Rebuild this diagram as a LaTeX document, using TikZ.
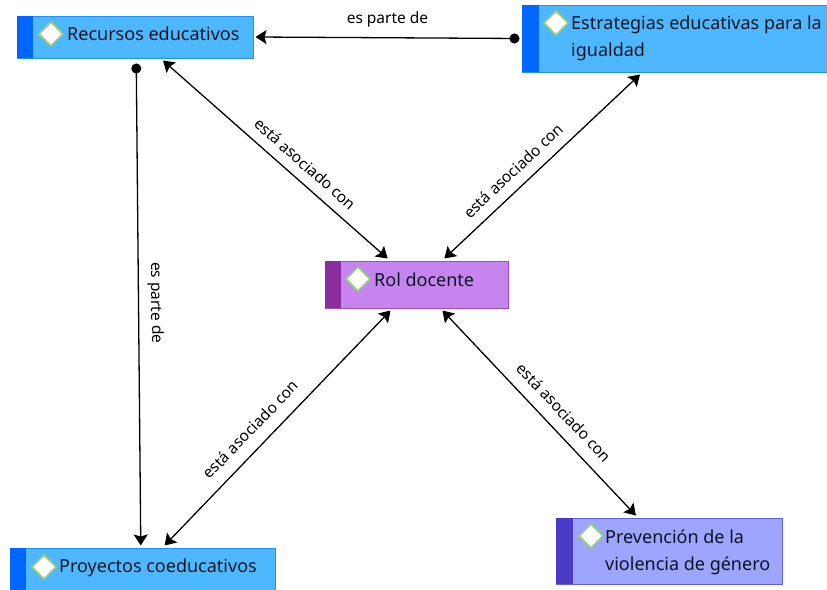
\documentclass[tikz,border=0pt]{standalone}
\usepackage{fontspec}
\setmainfont{Noto Sans}
\usetikzlibrary{arrows.meta,shapes.geometric}
\definecolor{azulfondo}{HTML}{4DB8FF}
\definecolor{azulfranja}{HTML}{0066FF}
\definecolor{azulborde}{HTML}{1E90FF}
\definecolor{lilafondo}{HTML}{C685EE}
\definecolor{lilafranja}{HTML}{8A2E9E}
\definecolor{lilaborde}{HTML}{9A4FC0}
\definecolor{violetafondo}{HTML}{9DA5FF}
\definecolor{violetafranja}{HTML}{4A3BC8}
\definecolor{violetaborde}{HTML}{5F5FE0}
\definecolor{verdegema}{HTML}{94CC80}
\definecolor{tinta}{HTML}{0B1420}
\tikzset{
	caja/.style={rectangle,line width=1pt,outer sep=2.5pt,inner sep=0pt},
	gema/.style={diamond,draw=verdegema,fill=white,line width=1.8pt,minimum width=25pt,minimum height=25pt,inner sep=0pt},
	texto/.style={anchor=west,align=left,inner sep=0pt,text=tinta,font=\fontsize{18}{27}\selectfont},
	rotulo/.style={font=\fontsize{15.5}{18}\selectfont,text=black,inner sep=4pt},
	asociado/.style={{Stealth[length=11pt,width=14pt,inset=2pt]}-{Stealth[length=11pt,width=14pt,inset=2pt]},line width=1.3pt},
	parte/.style={{Circle[length=10pt]}-{Stealth[length=11pt,width=14pt,inset=2pt]},line width=1.3pt}
}
\begin{document}
\begin{tikzpicture}[x=1pt,y=-1pt]
		\useasboundingbox (0,0) rectangle (827,589);
		%Cajas
		\node[caja,draw=azulborde,fill=azulfondo,minimum width=236pt,minimum height=42pt] (recursos) at (135,37) {};
		\node[caja,draw=azulborde,fill=azulfondo,minimum width=308pt,minimum height=67pt] (estrategias) at (676,38.5) {};
		\node[caja,draw=lilaborde,fill=lilafondo,minimum width=183pt,minimum height=47pt] (rol) at (416.5,284.5) {};
		\node[caja,draw=azulborde,fill=azulfondo,minimum width=265pt,minimum height=44pt] (proyectos) at (142.5,570) {};
		\node[caja,draw=violetaborde,fill=violetafondo,minimum width=226pt,minimum height=66pt] (prevencion) at (669,551) {};
		%Franjas
		\fill[azulfranja] (17,16) rectangle (33,58);
		\fill[azulfranja] (522,5) rectangle (539,72);
		\fill[lilafranja] (325,261) rectangle (341,308);
		\fill[azulfranja] (10,548) rectangle (26,592);
		\fill[violetafranja] (556,518) rectangle (573,584);
		%Gemas
		\node[gema] (gemarecursos) at (51,34) {};
		\node[gema] (gemaestrategias) at (556,23) {};
		\node[gema] (gemarol) at (358,279) {};
		\node[gema] (gemaproyectos) at (44,567) {};
		\node[gema] (gemaprevencion) at (591,536) {};
		%Textos
		\node[texto] (textorecursos) at (67,34) {Recursos educativos};
		\node[texto] (textoestrategias) at (571,38.5) {Estrategias educativas para la\\igualdad};
		\node[texto] (textorol) at (374,280) {Rol docente};
		\node[texto] (textoproyectos) at (59,568) {Proyectos coeducativos};
		\node[texto] (textoprevencion) at (605,552) {Prevención de la\\violencia de género};
		%Conectores
		\draw[parte] (estrategias.west) -- (recursos.east)
		node[rotulo,pos=0.5,above,yshift=6pt] (parte1) {es parte de};
		\draw[parte,shorten <=3pt] (recursos.-87) -- (proyectos.94)
		node[rotulo,pos=0.5,sloped,above,yshift=5pt] (parte2) {es parte de};
		\draw[asociado] (recursos.-40) -- (rol.138.6)
		node[rotulo,pos=0.585,sloped,above,yshift=6pt] (asociado1) {está asociado con};
		\draw[asociado] (rol.43) -- (estrategias.225)
		node[rotulo,pos=0.41,sloped,above,yshift=6pt] (asociado2) {está asociado con};
		\draw[asociado] (rol.-135.5) -- (proyectos.48.7)
		node[rotulo,pos=0.56,sloped,above,yshift=8pt] (asociado3) {está asociado con};
		\draw[asociado] (rol.-45.5) -- (prevencion.133)
		node[rotulo,pos=0.56,sloped,above,yshift=8pt] (asociado4) {está asociado con};
		\end{tikzpicture}
\end{document}
